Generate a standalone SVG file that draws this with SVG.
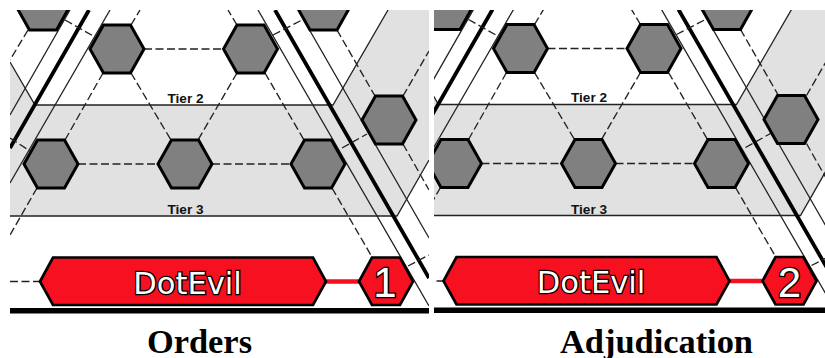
<svg xmlns="http://www.w3.org/2000/svg" width="825" height="358" viewBox="0 0 825 358">
<style>
.band{fill:#e1e1e1;stroke:none}
.thin{fill:none;stroke:#222;stroke-width:1.3}
.thick{fill:none;stroke:#000;stroke-width:3.8}
.dash{fill:none;stroke:#222;stroke-width:1.35;stroke-dasharray:8 3.5}
.link{fill:none;stroke:#f5101f;stroke-width:4.5}
.hex{fill:#808080;stroke:#000;stroke-width:3;stroke-linejoin:miter}
.red{fill:#f7101f;stroke:#000;stroke-width:2.7;stroke-linejoin:miter}
.bar{fill:#000}
.tier{font:bold 13.6px "Liberation Sans",Arial,sans-serif;fill:#111;text-anchor:middle}
.big{fill:#fff;stroke:#000;stroke-width:2.6;paint-order:stroke;text-anchor:middle}
.word{font-family:"DejaVu Sans","Liberation Sans",sans-serif;font-size:30.5px}
.num{font-family:"Liberation Sans",Arial,sans-serif;font-size:42px}
.title{font:bold 34.4px "Liberation Serif","Times New Roman",serif;fill:#000;text-anchor:middle}
</style>
<defs>
<clipPath id="clipL"><rect x="10" y="10" width="419" height="304"/></clipPath>
<clipPath id="clipR"><rect x="434" y="10" width="391" height="304"/></clipPath>
<polygon id="hexShape" class="hex" points="-27,0 -13.5,-24 13.5,-24 27,0 13.5,24 -13.5,24"/>
</defs>

<g clip-path="url(#clipL)">
<g id="bands-left">
<rect class="band" x="10" y="105" width="387" height="111"/>
<polygon class="band" points="10,62 35,105 10,105"/>
<polygon class="band" points="333,105 388,10 429,10 429,160 397,216 333,216"/>
</g>
<g id="connectors-left">
<path class="thin" d="M10,62 L35,105 H333 L388,10"/>
<path class="thin" d="M10,216 H397 L429,160"/>
<path class="thin" d="M10,115 L70,10 M110,10 L10,183 M258,10 L429,306 M298,10 L429,238"/>
<path class="thick" d="M10,148 L89,10 M275,10 L429,278"/>
<path class="dash" d="M65,20 L95,37 M131,25 L140,10 M144,49 H223 M237,25 L228,10 M273,35 L302,20 M337,30 L375,96 M403,96 L429,51 M403,144 L429,190 M103,73 L65,140 M131,73 L171,140 M237,73 L198,140 M265,73 L304,140 M78,164 H158 M212,164 H291 M10,138 L30,151 M342,148 L367,134 M28,30 L10,60 M37,188 L10,235 M332,188 L372,257 M408,266 L429,255 M10,281.5 H40"/>
<path class="link" d="M325,281.5 H359"/>
</g>
<g id="L-hex-a"><use href="#hexShape" x="43" y="6"/></g>
<g id="L-hex-b"><use href="#hexShape" x="323.5" y="6"/></g>
<g id="L-hex-c"><use href="#hexShape" x="117" y="49"/></g>
<g id="L-hex-d"><use href="#hexShape" x="250.5" y="49"/></g>
<g id="L-hex-e"><use href="#hexShape" x="389" y="120"/></g>
<g id="L-hex-f"><use href="#hexShape" x="51" y="164"/></g>
<g id="L-hex-g"><use href="#hexShape" x="185" y="164"/></g>
<g id="L-hex-h"><use href="#hexShape" x="318" y="164"/></g>
<g id="L-dotevil">
<polygon class="red" points="40,281.5 53,257.5 313,257.5 326,281.5 313,305 53,305"/>
<text class="big word" x="187.5" y="293.5">DotEvil</text>
</g>
<g id="L-turn">
<polygon class="red" points="359,281.5 372,257.5 400,257.5 413,281.5 400,305 372,305"/>
<text class="big num" x="385" y="297">1</text>
</g>
<rect class="bar" x="10" y="308" width="419" height="5.5"/>
</g>
<g id="L-tier-labels">
<text class="tier" x="185.5" y="102.5">Tier 2</text>
<text class="tier" x="185.5" y="214">Tier 3</text>
</g>

<g clip-path="url(#clipR)">
<g transform="translate(403.5,-0.5)">
<g id="bands-right">
<rect class="band" x="10" y="105" width="387" height="111"/>
<polygon class="band" points="10,62 35,105 10,105"/>
<polygon class="band" points="333,105 388,10 429,10 429,160 397,216 333,216"/>
</g>
<g id="connectors-right">
<path class="thin" d="M10,62 L35,105 H333 L388,10"/>
<path class="thin" d="M10,216 H397 L429,160"/>
<path class="thin" d="M10,115 L70,10 M110,10 L10,183 M258,10 L429,306 M298,10 L429,238"/>
<path class="thick" d="M10,148 L89,10 M275,10 L429,278"/>
<path class="dash" d="M65,20 L95,37 M131,25 L140,10 M144,49 H223 M237,25 L228,10 M273,35 L302,20 M337,30 L375,96 M403,96 L429,51 M403,144 L429,190 M103,73 L65,140 M131,73 L171,140 M237,73 L198,140 M265,73 L304,140 M78,164 H158 M212,164 H291 M10,138 L30,151 M342,148 L367,134 M28,30 L10,60 M37,188 L10,235 M332,188 L372,257 M408,266 L429,255 M10,281.5 H40"/>
<path class="link" d="M325,281.5 H359"/>
</g>
<g id="R-hex-a"><use href="#hexShape" x="43" y="6"/></g>
<g id="R-hex-b"><use href="#hexShape" x="323.5" y="6"/></g>
<g id="R-hex-c"><use href="#hexShape" x="117" y="49"/></g>
<g id="R-hex-d"><use href="#hexShape" x="250.5" y="49"/></g>
<g id="R-hex-e"><use href="#hexShape" x="387.5" y="120"/></g>
<g id="R-hex-f"><use href="#hexShape" x="51" y="164"/></g>
<g id="R-hex-g"><use href="#hexShape" x="185" y="164"/></g>
<g id="R-hex-h"><use href="#hexShape" x="318" y="164"/></g>
<g id="R-dotevil">
<polygon class="red" points="40,281.5 53,257.5 313,257.5 326,281.5 313,305 53,305"/>
<text class="big word" x="187.5" y="293.5">DotEvil</text>
</g>
<g id="R-turn">
<polygon class="red" points="359,281.5 372,257.5 400,257.5 413,281.5 400,305 372,305"/>
<text class="big num" x="386" y="297">2</text>
</g>
<rect class="bar" x="10" y="308" width="419" height="5.5"/>
</g>
</g>
<g id="R-tier-labels">
<text class="tier" x="589" y="102">Tier 2</text>
<text class="tier" x="589" y="213.5">Tier 3</text>
</g>
<text class="title" x="199.5" y="352.5">Orders</text>
<text class="title" x="656.5" y="352.5">Adjudication</text>
</svg>
